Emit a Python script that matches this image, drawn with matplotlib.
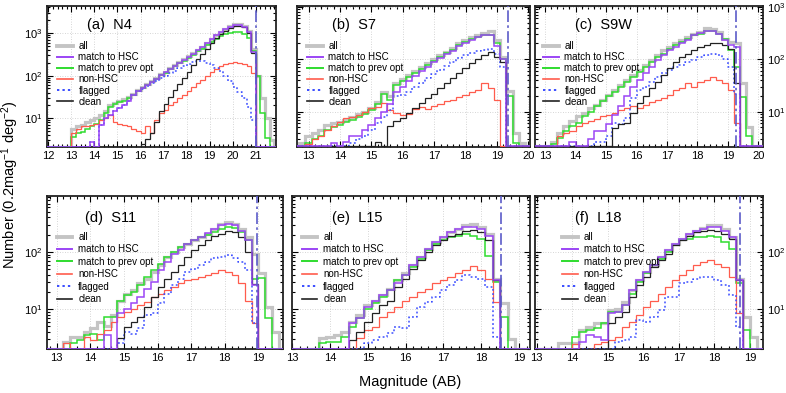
import numpy as np
import matplotlib
matplotlib.use("Agg")
import matplotlib.pyplot as plt
from matplotlib.lines import Line2D
from matplotlib.ticker import MultipleLocator, LogLocator, LogFormatterMathtext, NullFormatter

plt.rcParams['font.family'] = ['Liberation Sans', 'DejaVu Sans']
plt.rcParams['mathtext.fontset'] = 'custom'
plt.rcParams['mathtext.rm'] = 'Liberation Sans'
plt.rcParams['mathtext.it'] = 'Liberation Sans:italic'
plt.rcParams['mathtext.bf'] = 'Liberation Sans:bold'

BIN = 0.2
SERIES = ["all", "match to HSC", "match to prev opt", "non-HSC", "flagged", "clean"]

# ---------------- (a) N4 : bins start at 12.8 ----------------
N4_START = 12.8
N4_CUT = 21.0
N4_ALL = [0, 5.5, 6.5, 7, 8, 9, 10, 12, 15, 20, 23, 26, 28, 32, 38, 46, 53, 63, 74, 90, 110, 125, 148, 175,
          205, 240, 285, 335, 400, 480, 600, 740, 900, 1060, 1250, 1450, 1620, 1620, 1480, 1150, 420, 100, 30, 10, 3]
N4_HSC = [0, 0, 0, 0, 0, 2.8, 0, 7, 10, 12, 15, 17, 20, 26, 35, 44, 50, 60, 70, 85, 105, 120, 142, 168,
          198, 235, 280, 330, 400, 480, 600, 740, 890, 1050, 1220, 1420, 1550, 1550, 1420, 1050, 360, 0, 0, 0, 0]
N4_OPT = [0, 3.6, 4.5, 4.8, 5.5, 6.5, 7.5, 9, 13, 18, 21, 24, 26, 30, 36, 44, 50, 60, 70, 85, 105, 118, 140, 165,
          195, 225, 265, 310, 370, 430, 520, 610, 720, 840, 950, 1030, 1080, 1060, 950, 760, 380, 100, 13, 3.5, 0]
N4_NON = [0, 4.4, 5.5, 6.5, 6.5, 7, 7.5, 9, 10, 12, 8, 7.5, 7, 6.5, 5.5, 5, 4.4, 6.5, 4.4, 9, 13, 16, 20, 24,
          30, 36, 44, 54, 66, 80, 98, 120, 145, 165, 185, 200, 205, 200, 190, 165, 115, 0, 0, 0, 0]
N4_FLAG = [0, 0, 0, 0, 0, 2.8, 0, 7, 10, 12, 15, 17, 20, 26, 35, 44, 48, 57, 66, 76, 90, 100, 115, 130,
           150, 168, 185, 205, 225, 220, 200, 180, 155, 128, 100, 75, 55, 42, 30, 18, 9, 0, 0, 0, 0]
N4_CLEAN = [0, 0, 0, 0, 0, 0, 0, 0, 0, 0, 0, 0, 0, 0, 0, 0, 2.5, 3.3, 4.5, 8, 15, 22, 32, 45,
            62, 88, 125, 175, 240, 320, 430, 570, 750, 950, 1150, 1350, 1500, 1500, 1380, 1000, 340, 0, 0, 0, 0]

# ---------------- (b) S7 : bins start at 12.7 ----------------
S7_START = 12.7
S7_CUT = 19.35
S7_ALL = [2.5, 3.5, 4, 4.5, 5.5, 6, 6.5, 7, 8, 9, 10, 12, 15, 24, 20, 35, 42, 50, 60, 70, 85, 100, 120, 140,
          165, 200, 230, 260, 290, 320, 340, 230, 110, 25, 4, 2.5]
S7_HSC = [0, 0, 0, 0, 0, 2.5, 0, 2.6, 3.5, 3.5, 4.5, 5.5, 7.5, 10, 14, 24, 30, 38, 48, 60, 72, 88, 105, 125,
          145, 180, 205, 235, 260, 290, 295, 180, 100, 0, 0, 0]
S7_OPT = [0, 2.5, 3, 3.5, 4.5, 5, 5.5, 6.5, 7, 8, 9, 11, 14, 22, 17, 32, 38, 45, 55, 65, 78, 92, 110, 130,
          150, 185, 210, 240, 265, 290, 295, 200, 100, 20, 2.5, 0]
S7_NON = [0, 2.4, 3, 3.5, 4.5, 5.3, 6.5, 7.5, 8, 8.8, 10, 12, 12.5, 14.5, 11, 9.5, 8.8, 9.2, 11.5, 12.5, 11.5, 13, 14, 16,
          17, 19, 21, 24, 26, 35, 28, 17, 0, 0, 0, 0]
S7_FLAG = [0, 0, 0, 0, 0, 0, 0, 0, 2.5, 3, 3.5, 4.5, 6, 8, 11, 20, 21, 24, 30, 36, 44, 52, 62, 75,
           88, 105, 118, 130, 142, 150, 155, 125, 70, 0, 0, 0]
S7_CLEAN = [0, 0, 0, 0, 0, 0, 0, 0, 0, 0, 0, 0, 2.7, 0, 5.3, 6.6, 7.6, 9.4, 12, 14.5, 18, 22, 28, 35,
            43, 54, 67, 83, 100, 120, 140, 110, 90, 0, 0, 0]

# ---------------- (c) S9W : bins start at 12.8 ----------------
S9W_START = 12.8
S9W_CUT = 19.27
S9W_ALL = [0, 0, 2.6, 4, 5.3, 6.6, 8.2, 9.4, 12, 13.5, 17, 21, 26, 32, 40, 50, 62, 77, 95, 120, 150, 170, 200, 230,
           260, 300, 330, 395, 380, 330, 245, 210, 200, 35, 5, 0]
S9W_HSC = [0, 0, 0, 0, 0, 2.6, 0, 0, 3, 4.2, 4.2, 5.7, 8.8, 12.6, 19.5, 30, 40, 54, 72, 95, 120, 150, 170, 200,
           235, 285, 315, 340, 340, 305, 230, 190, 170, 0, 0, 0]
S9W_OPT = [0, 0, 2.4, 3.2, 4.2, 5.3, 6.1, 8.2, 10, 12.6, 16, 19.5, 24, 30, 37, 46, 58, 72, 90, 110, 128, 160, 185, 210,
           245, 285, 305, 350, 340, 305, 245, 150, 72, 19, 3.4, 0]
S9W_NON = [0, 0, 0, 3.4, 4, 4.2, 5.3, 6.1, 6.6, 7.1, 8.2, 8.8, 9.4, 10.9, 11.7, 12.6, 11.7, 13.5, 15.6, 17, 18, 21, 26, 28,
           35, 30, 37, 40, 46, 40, 35, 26, 6.1, 0, 0, 0]
S9W_FLAG = [0, 0, 0, 0, 0, 0, 0, 0, 0, 2.6, 2.6, 3.4, 6, 5.7, 7.6, 18, 26, 30, 37, 46, 54, 62, 72, 77,
            90, 95, 110, 120, 128, 120, 103, 72, 22, 0, 0, 0]
S9W_CLEAN = [0, 0, 0, 0, 0, 0, 0, 0, 0, 0, 0, 0, 4.9, 5.7, 6.1, 9.4, 14.5, 19.5, 28, 37, 50, 67, 90, 110,
             128, 150, 170, 185, 200, 205, 185, 160, 35, 0, 0, 0]

# ---------------- (d) S11 : bins start at 13.0 ----------------
S11_START = 13.0
S11_CUT = 18.97
S11_ALL = [0, 2.7, 3.3, 3.3, 4.0, 4.6, 6.0, 5.0, 7.9, 14, 18.7, 21.5, 28, 34, 45, 58, 81, 100, 121, 139, 160, 180,
           207, 253, 310, 330, 310, 253, 180, 93, 42, 11, 4]
S11_HSC = [0, 0, 0, 0, 0, 0, 0, 3.5, 0, 8.4, 10, 12.6, 16, 22, 30, 48, 67, 93, 110, 139, 160, 180,
           210, 250, 290, 310, 295, 236, 160, 26, 0, 0, 0]
S11_OPT = [0, 0, 2.5, 2.9, 3.5, 3.7, 2.9, 7.4, 7.4, 14, 17.5, 20, 26, 36, 48, 62, 81, 100, 121, 139, 160, 180,
           200, 220, 255, 270, 265, 220, 160, 34, 35, 7, 0]
S11_NON = [0, 2.5, 0, 0, 3.3, 2.9, 3.7, 4.3, 6, 7.4, 9, 10, 11.7, 13.4, 16, 18.7, 21.5, 24.5, 28, 32, 34, 36,
           39, 42, 48, 45, 39, 28, 14, 5.6, 0, 0, 0]
S11_FLAG = [0, 0, 0, 0, 0, 0, 0, 0, 0, 2.5, 4, 3.7, 4.6, 7.9, 8.4, 12.6, 18.7, 26, 34, 45, 51, 58,
            67, 77, 81, 87, 77, 67, 48, 5.6, 0, 0, 0]
S11_CLEAN = [0, 0, 0, 0, 0, 0, 0, 0, 0, 3.1, 4.9, 6, 7.4, 11, 16, 24.5, 34, 45, 58, 81, 106, 130,
             160, 193, 207, 236, 220, 180, 100, 27, 0, 0, 0]

# ---------------- (e) L15 : bins start at 13.7 ----------------
L15_START = 13.7
L15_CUT = 18.52
L15_ALL = [3.1, 3.3, 3.5, 4.0, 6.0, 7.9, 11.7, 14, 17.6, 22, 32, 42, 58, 81, 113, 148, 180, 220, 253, 290,
           310, 270, 207, 34, 13, 3]
L15_HSC = [0, 0, 0, 0, 5.6, 7, 11, 14, 17.5, 21.5, 28, 39, 58, 81, 113, 148, 180, 220, 253, 270,
           278, 253, 193, 32, 0, 0]
L15_OPT = [2.5, 2.7, 2.7, 3.3, 4.9, 7, 10, 12.6, 16, 21.5, 32, 39, 54, 76, 106, 139, 160, 180, 193, 207,
           193, 170, 85, 30, 7.4, 0]
L15_NON = [0, 0, 0, 0, 0, 3.1, 4.3, 4.9, 7.4, 9, 11, 14, 16, 20, 22, 28, 32, 36, 42, 48,
           56, 48, 34, 13.4, 0, 0]
L15_FLAG = [0, 0, 0, 0, 0, 0, 2.5, 2.9, 3.3, 3.8, 4.9, 4.6, 7.4, 11, 13.4, 16, 21.5, 26, 32, 39,
            36, 34, 24.5, 3.3, 0, 0]
L15_CLEAN = [0, 0, 0, 0, 2.9, 4, 6, 8.4, 11.7, 14, 24.5, 34, 51, 71, 100, 130, 160, 193, 208, 236,
             243, 220, 160, 32, 0, 0]

# ---------------- (f) L18 : bins start at 13.6 ----------------
L18_START = 13.6
L18_CUT = 18.72
L18_ALL = [2.5, 2.5, 2.5, 4.3, 4.9, 5.6, 5.6, 9.6, 10, 13.4, 21.5, 32, 45, 58, 81, 106, 139, 170, 207, 236,
           263, 290, 290, 253, 180, 34, 7.4, 3.3]
L18_HSC = [0, 0, 0, 2.7, 3.5, 3.3, 2.9, 8.4, 9, 11.7, 21.5, 32, 45, 58, 81, 106, 139, 170, 207, 236,
           253, 278, 270, 236, 180, 32, 0, 0]
L18_OPT = [0, 0, 3.3, 4.0, 4.3, 4.6, 5.6, 9, 9, 11.7, 18.7, 30, 42, 58, 76, 100, 130, 160, 170, 180,
           185, 188, 180, 148, 113, 28, 4.3, 0]
L18_NON = [0, 0, 2.4, 0, 0, 2.4, 2.7, 2.9, 3.3, 4.9, 6, 7.9, 11, 14, 18.7, 24.5, 32, 39, 48, 58,
           67, 71, 62, 54, 36, 8.4, 0, 0]
L18_FLAG = [0, 0, 0, 0, 0, 0, 0, 0, 2.6, 2.9, 3.3, 6.4, 6, 7.4, 9.6, 16, 16, 28, 30, 34,
            36, 37, 32, 26, 17.5, 4.9, 0, 0]
L18_CLEAN = [0, 0, 0, 0, 0, 0, 0, 5.6, 7.4, 9, 16, 26, 36, 54, 71, 93, 130, 160, 193, 220,
             236, 243, 236, 207, 170, 32, 0, 0]

PANEL_LABELS = ["(a)  N4", "(b)  S7", "(c)  S9W", "(d)  S11", "(e)  L15", "(f)  L18"]

# ---------------- style ----------------
STYLE = {
    "all": dict(color="#c4c4c4", lw=2.3, ls="-"),
    "match to HSC": dict(color="#9b45f5", lw=1.1, ls="-"),
    "match to prev opt": dict(color="#2fdc2f", lw=1.1, ls="-"),
    "non-HSC": dict(color="#ff5c4d", lw=0.9, ls="-"),
    "flagged": dict(color="#3a4dff", lw=1.1, ls=(0, (1.2, 1.6))),
    "clean": dict(color="#222222", lw=0.9, ls="-"),
}
DRAW_ORDER = ["all", "match to prev opt", "non-HSC", "flagged", "clean", "match to HSC"]

W, H = 786, 393
fig = plt.figure(figsize=(W / 100, H / 100), dpi=100)


def box(x0, x1, y0, y1):
    return [x0 / W, 1 - y1 / H, (x1 - x0) / W, (y1 - y0) / H]


panels = [
    dict(rect=box(47, 276, 5.7, 146.7), xlim=(11.94, 21.88), ylim=(2.14, 4400), start=N4_START, cut=N4_CUT,
         data=[N4_ALL, N4_HSC, N4_OPT, N4_NON, N4_FLAG, N4_CLEAN], ylab="left", lx=0.175, ly=0.863,
         leg=(0.044, 0.75), lsp=0.12),
    dict(rect=box(297, 530, 5.7, 146.7), xlim=(12.63, 20.05), ylim=(2.15, 1050), start=S7_START, cut=S7_CUT,
         data=[S7_ALL, S7_HSC, S7_OPT, S7_NON, S7_FLAG, S7_CLEAN], ylab=None, lx=0.149, ly=0.863,
         leg=(0.043, 0.75), lsp=0.12),
    dict(rect=box(535, 763, 5.7, 146.7), xlim=(12.67, 20.15), ylim=(2.15, 1050), start=S9W_START, cut=S9W_CUT,
         data=[S9W_ALL, S9W_HSC, S9W_OPT, S9W_NON, S9W_FLAG, S9W_CLEAN], ylab="right", lx=0.175, ly=0.863,
         leg=(0.035, 0.75), lsp=0.12),
    dict(rect=box(47, 283, 196, 349), xlim=(12.71, 19.73), ylim=(2.0, 950), start=S11_START, cut=S11_CUT,
         data=[S11_ALL, S11_HSC, S11_OPT, S11_NON, S11_FLAG, S11_CLEAN], ylab="left", lx=0.161, ly=0.854,
         leg=(0.042, 0.765), lsp=0.25),
    dict(rect=box(292, 530, 196, 349), xlim=(12.995, 19.29), ylim=(2.0, 950), start=L15_START, cut=L15_CUT,
         data=[L15_ALL, L15_HSC, L15_OPT, L15_NON, L15_FLAG, L15_CLEAN], ylab=None, lx=0.167, ly=0.854,
         leg=(0.041, 0.765), lsp=0.25),
    dict(rect=box(535, 763, 196, 349), xlim=(12.95, 19.37), ylim=(2.0, 950), start=L18_START, cut=L18_CUT,
         data=[L18_ALL, L18_HSC, L18_OPT, L18_NON, L18_FLAG, L18_CLEAN], ylab="right", lx=0.175, ly=0.854,
         leg=(0.12, 0.765), lsp=0.25),
]

for p, label in zip(panels, PANEL_LABELS):
    ax = fig.add_axes(p["rect"])
    ax.set_yscale("log")
    xl, yl = p["xlim"], p["ylim"]
    floor = yl[0] * 1.01
    handles = {}
    series = dict(zip(SERIES, p["data"]))
    for name in DRAW_ORDER:
        v = np.asarray(series[name], dtype=float)
        v = np.where(v > 0, v, floor)
        edges = p["start"] + BIN * np.arange(len(v) + 1)
        x = np.concatenate([[xl[0]], edges, [xl[1]]])
        y = np.concatenate([[floor], v, [floor, floor]])
        st = STYLE[name]
        ax.step(x, y, where="post", color=st["color"], lw=st["lw"], ls=st["ls"],
                solid_joinstyle="miter", zorder=3 if name != "all" else 2)
        handles[name] = Line2D([], [], color=st["color"], lw=st["lw"] + (0.3 if name != "all" else 0.5),
                               ls=st["ls"])
    ax.axvline(p["cut"], color="#5b5bc8", lw=1.2, ls=(0, (7, 2, 1.5, 2)), zorder=4)
    ax.set_xlim(*xl)
    ax.set_ylim(*yl)
    ax.xaxis.set_major_locator(MultipleLocator(1))
    ax.xaxis.set_minor_locator(MultipleLocator(0.2))
    ax.yaxis.set_major_locator(LogLocator(base=10))
    ax.yaxis.set_minor_locator(LogLocator(base=10, subs=np.arange(2, 10)))
    ax.yaxis.set_major_formatter(LogFormatterMathtext())
    ax.yaxis.set_minor_formatter(NullFormatter())
    ax.grid(True, which="major", color="#c8c8c8", lw=0.6, ls=(0, (1, 2)), zorder=0)
    ax.tick_params(which="both", direction="in", top=True, right=True, labelsize=8, colors="black",
                   width=0.8)
    ax.tick_params(which="major", length=4, pad=3)
    ax.tick_params(which="minor", length=2)
    ax.tick_params(axis="y", labelleft=(p["ylab"] == "left"), labelright=(p["ylab"] == "right"))
    for s in ax.spines.values():
        s.set_linewidth(1.3)
        s.set_color("#222222")
    ax.text(p["lx"], p["ly"], label, transform=ax.transAxes, fontsize=10.5, ha="left", va="center")
    ax.legend([handles[n] for n in SERIES], SERIES, loc="upper left", bbox_to_anchor=p["leg"],
              frameon=False, fontsize=7, handlelength=1.6, handletextpad=0.6, labelspacing=p["lsp"],
              borderpad=0, borderaxespad=0)

fig.text(0.013, 0.53, "Number (0.2mag$^{-1}$ deg$^{-2}$)", rotation=90, ha="center", va="center", fontsize=10.5)
fig.text(0.522, 0.028, "Magnitude (AB)", ha="center", va="center", fontsize=10.5)

fig.savefig("out.png", dpi=100)
